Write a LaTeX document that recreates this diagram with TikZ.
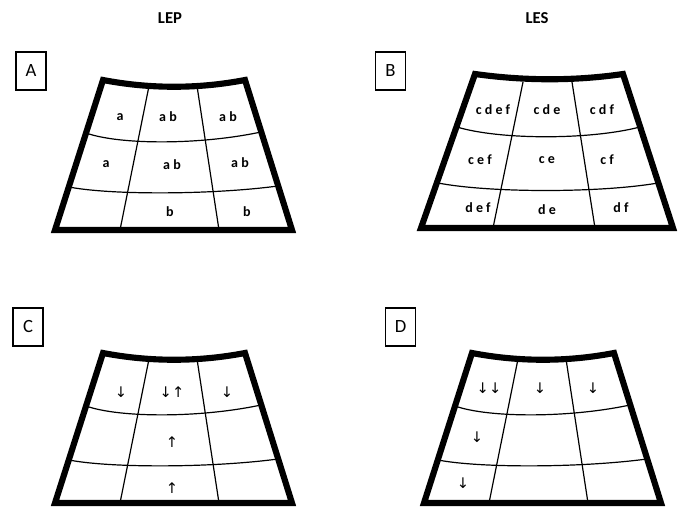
\documentclass[tikz,border=0pt]{standalone}
\usepackage{fontspec}
\setmainfont{Carlito}
\newfontfamily\arrowfont{DejaVu Sans}
\begin{document}
\begin{tikzpicture}[x=0.75pt,y=-0.75pt,
  outline/.style={line width=4.6pt,line join=miter},
  grid/.style={line width=0.9pt},
  lab/.style={font=\fontsize{10.5}{12}\selectfont\bfseries,inner sep=0pt},
  arr/.style={font=\arrowfont\fontsize{11}{12}\selectfont,inner sep=0pt},
  title/.style={font=\fontsize{12.5}{14}\selectfont\bfseries,inner sep=0pt},
  tag/.style={draw,line width=0.8pt,minimum width=22.5pt,minimum height=28.5pt,inner sep=0pt,font=\fontsize{14}{16}\selectfont}]
\useasboundingbox (0,0) rectangle (679,507);
\fill[white] (0,0) rectangle (679,507);

% titles
\node[title] (tLEP) at (170,18) {LEP};
\node[title] (tLES) at (537,18) {LES};

% ---------- Panel A ----------
\node[tag] (boxA) at (31,71) {A};
\begin{scope}
  \draw[grid] (86,133) .. controls (120,145) and (200,145) .. (261,132);
  \draw[grid] (69,187) .. controls (110,195) and (210,195) .. (278,186);
  \draw[grid] (149,86) -- (120,230);
  \draw[grid] (197,86) -- (219,230);
  \draw[outline] (103,80) .. controls (150,89) and (198,89) .. (245,80) -- (292,230) -- (55,230) -- cycle;
\end{scope}
\node[lab] (a11) at (120,117) {a};
\node[lab] (a12) at (168,117) {a b};
\node[lab] (a13) at (228,117) {a b};
\node[lab] (a21) at (106,164) {a};
\node[lab] (a22) at (172,165) {a b};
\node[lab] (a23) at (240,163) {a b};
\node[lab] (a32) at (170,212) {b};
\node[lab] (a33) at (247,212) {b};

% ---------- Panel B ----------
\node[tag] (boxB) at (390.5,71) {B};
\begin{scope}
  \draw[grid] (457,127) .. controls (500,140) and (590,140) .. (640,127);
  \draw[grid] (438,183) .. controls (490,193) and (600,193) .. (658,183);
  \draw[grid] (523,82) -- (493,228);
  \draw[grid] (572,82) -- (595,228);
  \draw[outline] (475,74) .. controls (525,81) and (575,81) .. (623,74) -- (673,228) -- (421,228) -- cycle;
\end{scope}
\node[lab] (b11) at (493,110) {c d e f};
\node[lab] (b12) at (547,110) {c d e};
\node[lab] (b13) at (602,110) {c d f};
\node[lab] (b21) at (480,160) {c e f};
\node[lab] (b22) at (547,160) {c e};
\node[lab] (b23) at (607,160) {c f};
\node[lab] (b31) at (478,208) {d e f};
\node[lab] (b32) at (547,210) {d e};
\node[lab] (b33) at (621,208) {d f};

% ---------- Panel C ----------
\node[tag] (boxC) at (28,327) {C};
\begin{scope}[shift={(0,273)}]
  \draw[grid] (86,133) .. controls (120,145) and (200,145) .. (261,132);
  \draw[grid] (69,187) .. controls (110,195) and (210,195) .. (278,186);
  \draw[grid] (149,86) -- (120,230);
  \draw[grid] (197,86) -- (219,230);
  \draw[outline] (103,80) .. controls (150,89) and (198,89) .. (245,80) -- (292,230) -- (55,230) -- cycle;
\end{scope}
\node[arr] (c11) at (121,392) {↓};
\node[arr] (c12) at (172,392) {↓↑};
\node[arr] (c13) at (227,392) {↓};
\node[arr] (c22) at (172,442) {↑};
\node[arr] (c32) at (172,488) {↑};

% ---------- Panel D ----------
\node[tag] (boxD) at (400.5,327) {D};
\begin{scope}[shift={(369,273)}]
  \draw[grid] (86,133) .. controls (120,145) and (200,145) .. (261,132);
  \draw[grid] (69,187) .. controls (110,195) and (210,195) .. (278,186);
  \draw[grid] (149,86) -- (120,230);
  \draw[grid] (197,86) -- (219,230);
  \draw[outline] (103,80) .. controls (150,89) and (198,89) .. (245,80) -- (292,230) -- (55,230) -- cycle;
\end{scope}
\node[arr] (d11) at (489,388) {↓↓};
\node[arr] (d12) at (540,388) {↓};
\node[arr] (d13) at (593,388) {↓};
\node[arr] (d21) at (477,437) {↓};
\node[arr] (d31) at (463,483) {↓};
\end{tikzpicture}
\end{document}
